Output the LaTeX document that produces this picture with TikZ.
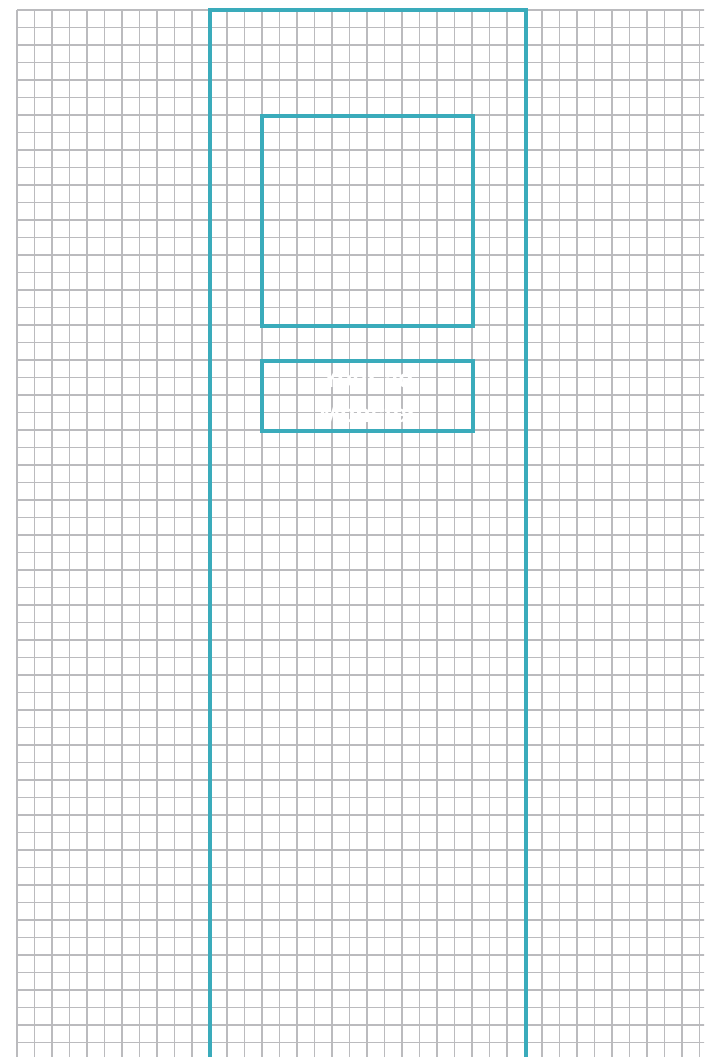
\documentclass[tikz,border=0pt]{standalone}
\usepackage{fontspec}
\setmainfont{Liberation Sans}
\definecolor{gridgray}{HTML}{BBBBBE}
\definecolor{teal}{HTML}{3AABBB}
\tikzset{frame/.style={draw=teal,line width=4.5pt}}
\begin{document}
\begin{tikzpicture}[x=1pt,y=-1pt]
\useasboundingbox (0,0) rectangle (704,1057);
\clip (0,0) rectangle (704,1057);
\fill[white] (0,0) rectangle (704,1057);
% grid
\foreach \i in {0,...,40}
  \draw[gridgray,line width=1.6pt] (17+17.5*\i,10)--(17+17.5*\i,1060);
\foreach \j in {0,...,60}
  \draw[gridgray,line width=1.6pt] (17,10+17.5*\j)--(710,10+17.5*\j);

% frames
\draw[frame] (210,10) rectangle (526,1070);
\draw[frame] (262,116) rectangle (473,326);
\draw[frame] (262,361) rectangle (473,431);

\node[white,font=\bfseries\fontsize{25}{35}\selectfont,align=center] (label) at (368,396) {Your ad\\Monster};
\end{tikzpicture}
\end{document}
